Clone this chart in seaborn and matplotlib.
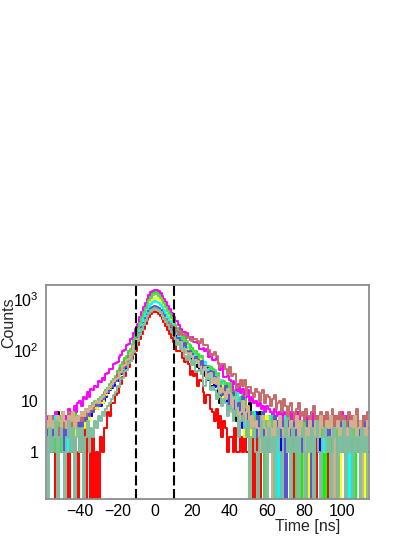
import numpy as np
import pandas as pd
import matplotlib
matplotlib.use("Agg")
import matplotlib.pyplot as plt
from matplotlib.ticker import MultipleLocator, LogLocator, FuncFormatter, NullFormatter, NullLocator
import seaborn as sns

# timing histograms, 1 ns bins, first bin centred at -58 ns
time_start = -58
bin_width = 1
cut_window = [-10, 10]

h_black = [3, 2, 4, 3, 1, 2, 6, 3, 2, 4, 3, 2, 5, 3, 4, 2, 4, 5,
           4, 6, 5, 4, 7, 6, 5, 8, 7, 9, 8, 10, 9, 12, 13, 14, 17, 18, 21, 24,
           30, 27, 38, 35, 44, 56, 58, 73, 80, 102,
           120, 152, 190, 243, 298, 366, 432, 498, 561, 604, 621, 606, 574, 526, 468, 412, 358, 309, 266, 229, 198,
           194, 162, 132, 145, 114, 91, 90, 94, 82, 57, 70, 65, 46, 45, 43, 31, 44, 29, 31, 20,
           20, 27, 23, 12, 9, 15, 16, 10, 7, 15, 8, 9, 11, 4, 5, 8, 6, 8, 2, 6,
           9, 4, 3, 5, 2, 6, 3, 4, 1, 3, 5, 2, 4, 3, 0, 4, 2, 3, 5, 3, 1, 4, 2, 3, 3, 6, 2, 1, 4, 3, 2, 5,
           3, 0, 3, 4, 2, 3, 1, 5, 3, 2, 4, 3, 2, 0, 3, 5, 2, 3, 4, 1, 3, 2, 5, 3, 4, 2, 3, 1, 4, 3, 2, 4]

h_red = [2, 1, 3, 1, 2, 0, 1, 3, 2, 1, 2, 1, 0, 3, 1, 2, 1, 0,
         2, 1, 3, 0, 2, 1, 0, 2, 0, 1, 0, 2, 1, 3, 3, 6, 5, 9, 9, 13,
         14, 19, 21, 29, 31, 42, 46, 60, 66, 83,
         96, 125, 162, 208, 262, 322, 386, 448, 505, 545, 560, 545, 510, 460, 405, 348, 295, 246, 204, 168, 140,
         129, 96, 95, 97, 68, 57, 65, 53, 32, 39, 31, 35, 20, 26, 25, 15, 9, 13, 13, 7,
         6, 4, 7, 3, 5, 2, 4, 3, 1, 2, 2, 1, 3, 1, 1, 2, 1, 2, 1, 1,
         1, 2, 0, 1, 3, 0, 2, 1, 0, 2, 1, 3, 0, 1, 2, 0, 1, 2, 1, 0, 3, 1, 2, 0, 1, 2, 1, 0, 2, 3, 1, 0,
         2, 1, 1, 0, 2, 1, 3, 0, 1, 2, 0, 1, 2, 1, 0, 2, 1, 3, 1, 0, 2, 1, 2, 0, 1, 3, 1, 2, 0, 1, 2, 1]

h_green = [3, 4, 2, 3, 5, 2, 4, 3, 1, 4, 3, 5, 2, 4, 3, 6, 4, 3,
           5, 4, 6, 7, 5, 8, 7, 9, 8, 10, 11, 10, 13, 14, 16, 18, 20, 23, 27, 30,
           39, 36, 51, 52, 68, 71, 93, 99, 131, 155,
           215, 290, 378, 480, 602, 740, 888, 1040, 1192, 1318, 1380, 1352, 1276, 1165, 1032, 900, 768, 645, 540, 452, 378,
           295, 269, 253, 213, 173, 184, 131, 124, 123, 107, 80, 95, 83, 64, 75, 57, 58, 37, 45, 46,
           43, 35, 25, 35, 23, 16, 18, 22, 18, 9, 16, 16, 8, 9, 10, 5, 13, 6, 7, 4,
           6, 4, 5, 3, 5, 4, 2, 6, 3, 4, 5, 2, 3, 4, 1, 4, 3, 5, 2, 4, 3, 1, 4, 3, 5, 2, 3, 0, 4, 3, 2, 4,
           3, 5, 1, 3, 4, 2, 3, 4, 0, 3, 5, 2, 4, 3, 2, 3, 4, 1, 3, 5, 2, 3, 4, 2, 0, 3, 4, 2, 3, 5, 2, 4]

h_blue = [2, 4, 3, 1, 3, 2, 4, 2, 3, 5, 1, 3, 2, 4, 3, 2, 5, 3,
          4, 3, 5, 6, 4, 7, 5, 6, 8, 7, 9, 8, 11, 10, 12, 15, 16, 19, 20, 24,
          25, 33, 34, 45, 44, 59, 60, 79, 84, 108,
          128, 160, 203, 258, 322, 395, 470, 545, 612, 660, 680, 665, 628, 574, 512, 448, 388, 333, 285, 245, 212,
          179, 186, 160, 121, 107, 113, 111, 88, 76, 90, 67, 66, 66, 43, 43, 48, 39, 44, 26, 31,
          29, 19, 22, 28, 16, 14, 20, 16, 6, 13, 9, 12, 6, 10, 11, 5, 3, 7, 7, 4,
          5, 3, 4, 6, 2, 4, 3, 5, 3, 1, 4, 3, 2, 5, 3, 4, 0, 3, 2, 4, 3, 5, 2, 3, 1, 4, 3, 2, 4, 0, 3, 5,
          2, 3, 4, 2, 3, 1, 3, 4, 2, 5, 3, 2, 3, 0, 4, 3, 2, 3, 5, 2, 3, 4, 1, 3, 2, 4, 3, 2, 0, 3, 4, 2]

h_yellow = [2, 3, 1, 4, 2, 3, 0, 3, 2, 4, 1, 3, 2, 3, 4, 2, 3, 5,
            4, 5, 3, 6, 5, 4, 7, 6, 8, 7, 9, 10, 9, 12, 13, 15, 17, 19, 22, 25,
            32, 30, 41, 42, 55, 57, 74, 79, 103, 118,
            168, 222, 290, 370, 462, 565, 675, 790, 905, 1000, 1050, 1030, 972, 888, 790, 690, 590, 498, 418, 350, 295,
            242, 227, 190, 145, 137, 144, 124, 93, 104, 81, 78, 55, 68, 67, 46, 44, 54, 40, 28, 34,
            22, 25, 29, 23, 16, 24, 12, 13, 15, 13, 6, 13, 10, 6, 10, 6, 8, 2, 5, 7,
            0, 4, 2, 5, 3, 1, 4, 3, 2, 5, 3, 4, 2, 0, 3, 4, 2, 3, 5, 1, 3, 2, 4, 3, 2, 5, 3, 1, 4, 2, 3, 4,
            0, 3, 2, 5, 3, 4, 2, 3, 1, 4, 3, 2, 4, 3, 5, 2, 0, 3, 4, 2, 3, 1, 4, 3, 2, 5, 3, 2, 4, 0, 3, 2]

h_magenta = [4, 5, 3, 5, 4, 6, 4, 5, 3, 6, 5, 4, 7, 5, 6, 8, 6, 9,
             10, 8, 12, 11, 15, 12, 17, 16, 20, 19, 24, 23, 28, 26, 33, 36, 42, 43, 52, 55,
             58, 74, 79, 96, 101, 123, 132, 160, 174, 210,
             252, 327, 433, 548, 694, 838, 1004, 1166, 1334, 1457, 1522, 1487, 1413, 1286, 1153, 1006, 873, 737, 622, 518, 442,
             366, 364, 314, 254, 221, 226, 216, 182, 158, 177, 140, 141, 139, 103, 102, 111, 95, 104, 73, 82,
             62, 64, 68, 56, 40, 50, 29, 29, 31, 26, 16, 25, 21, 15, 21, 14, 17, 7, 12, 16,
             10, 12, 9, 10, 8, 9, 7, 8, 6, 8, 7, 6, 5, 7, 6, 5, 6, 4, 6, 5, 5, 4, 6, 3, 5, 4, 6, 4, 3, 5, 4, 5,
             3, 4, 6, 3, 4, 2, 5, 4, 3, 5, 4, 2, 4, 5, 3, 4, 3, 6, 4, 3, 5, 2, 4, 3, 5, 4, 2, 4, 3, 5, 4, 3]

h_cyan = [3, 2, 4, 3, 2, 5, 3, 4, 2, 3, 4, 1, 3, 5, 2, 4, 3, 4,
          5, 4, 6, 5, 7, 6, 8, 7, 9, 8, 10, 11, 12, 13, 15, 16, 18, 21, 24, 27,
          34, 32, 44, 43, 57, 60, 77, 82, 107, 121,
          165, 212, 272, 344, 426, 518, 614, 712, 804, 866, 900, 884, 836, 766, 684, 600, 516, 440, 372, 315, 268,
          250, 206, 167, 177, 139, 112, 110, 113, 99, 72, 85, 81, 59, 58, 56, 41, 58, 39, 42, 29,
          29, 34, 29, 17, 19, 26, 21, 13, 19, 13, 14, 6, 13, 14, 7, 7, 12, 7, 3, 7,
          5, 3, 6, 4, 2, 5, 3, 4, 1, 4, 3, 5, 2, 4, 3, 0, 4, 3, 2, 5, 3, 2, 4, 3, 5, 1, 3, 4, 2, 3, 4, 2,
          5, 3, 0, 4, 2, 3, 4, 1, 3, 4, 2, 5, 3, 2, 4, 3, 1, 4, 3, 2, 4, 0, 3, 5, 2, 4, 3, 2, 3, 4, 1, 3]

h_lime = [2, 3, 4, 2, 3, 1, 4, 3, 5, 2, 3, 4, 2, 3, 5, 3, 4, 4,
          5, 6, 4, 7, 6, 8, 7, 9, 10, 9, 11, 12, 13, 15, 16, 18, 21, 24, 27, 31,
          32, 44, 43, 57, 58, 75, 80, 103, 114, 152,
          200, 262, 342, 436, 545, 665, 795, 930, 1060, 1180, 1250, 1228, 1160, 1060, 940, 820, 700, 590, 495, 415, 348,
          302, 235, 221, 215, 163, 141, 150, 128, 91, 100, 86, 91, 65, 74, 72, 51, 41, 48, 48, 35,
          31, 40, 33, 20, 17, 23, 25, 17, 12, 22, 13, 14, 15, 6, 7, 12, 8, 11, 4, 7,
          4, 6, 3, 5, 2, 4, 5, 3, 0, 4, 3, 2, 5, 3, 4, 2, 3, 4, 1, 3, 5, 3, 2, 4, 3, 0, 3, 4, 2, 5, 3, 1,
          4, 3, 2, 4, 3, 5, 2, 3, 4, 2, 3, 0, 4, 3, 2, 5, 3, 4, 2, 3, 1, 4, 3, 2, 5, 3, 4, 0, 3, 2, 4, 3]

h_slate = [2, 3, 1, 3, 2, 4, 2, 3, 2, 1, 3, 2, 4, 3, 2, 3, 4, 3,
           4, 3, 5, 4, 6, 5, 7, 6, 8, 9, 8, 10, 11, 12, 14, 15, 18, 19, 22, 25,
           27, 36, 35, 46, 47, 62, 64, 83, 90, 116,
           138, 172, 218, 276, 344, 420, 500, 580, 650, 700, 720, 705, 665, 608, 543, 475, 410, 352, 301, 258, 222,
           178, 171, 170, 146, 119, 134, 94, 92, 94, 82, 60, 74, 64, 50, 60, 45, 48, 29, 37, 39,
           37, 30, 21, 30, 20, 13, 15, 20, 15, 7, 14, 15, 7, 8, 9, 5, 12, 5, 7, 3,
           6, 3, 4, 2, 5, 3, 4, 6, 2, 3, 4, 1, 3, 5, 2, 4, 3, 2, 4, 0, 3, 4, 2, 3, 5, 2, 3, 4, 1, 3, 2, 4,
           3, 0, 4, 3, 5, 2, 3, 4, 2, 3, 1, 4, 3, 2, 4, 3, 5, 2, 3, 0, 4, 2, 3, 5, 3, 2, 4, 1, 3, 4, 2, 3]

h_rose = [3, 4, 2, 5, 3, 4, 3, 2, 4, 5, 3, 4, 6, 3, 5, 4, 3, 5,
          5, 4, 6, 5, 7, 6, 8, 7, 9, 10, 9, 11, 12, 14, 15, 17, 19, 22, 24, 28,
          34, 33, 44, 45, 57, 59, 76, 81, 103, 112,
          132, 160, 200, 250, 308, 370, 435, 500, 556, 596, 610, 602, 575, 535, 488, 440, 395, 355, 320, 292, 270,
          268, 238, 198, 220, 196, 208, 172, 181, 182, 146, 163, 163, 147, 135, 163, 124, 126, 123, 100, 81,
          80, 90, 77, 54, 46, 54, 54, 42, 33, 46, 31, 33, 33, 18, 20, 26, 20, 26, 13, 19,
          19, 14, 12, 17, 15, 10, 14, 16, 9, 13, 12, 8, 11, 13, 7, 9, 10, 6, 11, 8, 5, 8, 9, 6, 4, 7, 9, 5,
          6, 4, 7, 5, 3, 6, 8, 4, 5, 2, 6, 5, 3, 6, 4, 4, 7, 2, 5, 3, 6, 4, 5, 2, 4, 6, 3, 5, 4, 7, 3, 4, 2, 5, 4, 6]

h_tan = [4, 3, 5, 3, 4, 2, 5, 4, 3, 6, 4, 3, 5, 4, 6, 3, 5, 4,
         5, 6, 5, 7, 6, 8, 7, 8, 9, 10, 9, 11, 12, 13, 15, 17, 19, 21, 24, 27,
         28, 37, 37, 48, 50, 63, 67, 85, 93, 117,
         130, 162, 205, 258, 320, 388, 458, 525, 582, 612, 620, 606, 572, 524, 468, 410, 354, 302, 258, 222, 192,
         155, 157, 129, 141, 97, 102, 88, 75, 86, 76, 51, 62, 61, 46, 36, 40, 47, 30, 34, 35,
         22, 28, 21, 29, 14, 18, 15, 11, 17, 14, 6, 11, 12, 7, 4, 6, 10, 4, 6, 8,
         3, 5, 2, 4, 3, 1, 4, 5, 3, 2, 4, 3, 0, 4, 2, 3, 5, 3, 2, 4, 1, 3, 4, 2, 3, 5, 2, 4, 3, 0, 3, 2,
         4, 3, 1, 4, 3, 2, 5, 3, 2, 4, 3, 5, 2, 0, 3, 4, 2, 3, 4, 1, 3, 2, 4, 3, 5, 2, 3, 4, 0, 3, 2, 4]

h_sage = [2, 0, 3, 1, 2, 4, 0, 2, 3, 1, 0, 2, 4, 1, 3, 0, 2, 3,
          1, 3, 0, 2, 4, 1, 3, 2, 4, 3, 5, 4, 6, 5, 7, 8, 9, 11, 13, 15,
          20, 19, 27, 28, 39, 41, 55, 60, 80, 92,
          118, 150, 192, 245, 308, 380, 455, 530, 595, 635, 650, 636, 600, 548, 488, 425, 365, 310, 262, 222, 188,
          165, 124, 136, 104, 102, 77, 63, 76, 63, 50, 60, 37, 38, 41, 33, 20, 20, 27, 27, 16,
          19, 16, 11, 14, 12, 8, 11, 9, 5, 8, 7, 4, 6, 5, 2, 4, 5, 3, 2, 4,
          0, 2, 3, 1, 0, 2, 4, 1, 2, 0, 3, 1, 2, 0, 2, 3, 1, 0, 2, 4, 1, 2, 0, 3, 1, 2, 0, 2, 3, 1, 0, 2,
          1, 3, 0, 2, 4, 1, 0, 2, 3, 1, 2, 0, 1, 3, 2, 0, 2, 1, 4, 0, 2, 1, 3, 0, 2, 1, 2, 0, 3, 1, 2, 0]

hists = [h_black, h_red, h_green, h_blue, h_yellow, h_magenta,
         h_cyan, h_lime, h_slate, h_rose, h_tan, h_sage]
colors = ["#000000", "#ff0000", "#00ff00", "#0000ff", "#ffff00", "#ff00ff",
          "#00ffff", "#59d454", "#5954d9", "#c86868", "#d2b48c", "#7fbf9f"]

sns.set_theme(style="white")
plt.rcParams["font.family"] = ["Liberation Sans", "DejaVu Sans"]
plt.rcParams["mathtext.default"] = "regular"

fig = plt.figure(figsize=(4.15, 5.37), dpi=100)
ax = fig.add_axes([0.110, 0.071, 0.779, 0.3985])
ax.set_yscale("log")

n_bins = len(h_black)
lo = time_start - bin_width / 2
hi = time_start + (n_bins - 0.5) * bin_width
for counts, col in zip(hists, colors):
    df = pd.DataFrame({"time": time_start + bin_width * np.arange(len(counts)),
                       "counts": counts})
    sns.histplot(data=df, x="time", weights="counts", binwidth=bin_width,
                 binrange=(lo, hi), element="step", fill=False,
                 color=col, linewidth=1.4, ax=ax)

# timing window
for w in cut_window:
    ax.axvline(w, color="black", lw=1.5, ls=(0, (4.8, 1.7)))

ax.set_xlim(lo, hi)
ax.set_ylim(0.12, 1880)
ax.set_xlabel("")
ax.set_ylabel("")

# ROOT-like axes
ax.xaxis.set_major_locator(MultipleLocator(20))
ax.xaxis.set_minor_locator(NullLocator())
ax.yaxis.set_major_locator(LogLocator(base=10, numticks=10))
ax.yaxis.set_minor_locator(LogLocator(base=10, subs=np.arange(2, 10), numticks=30))
ax.yaxis.set_minor_formatter(NullFormatter())
ylabels = {1: "1", 10: "10", 100: r"$10^{2}$", 1000: r"$10^{3}$"}
ax.yaxis.set_major_formatter(FuncFormatter(lambda v, p: ylabels.get(int(round(v)), "")))

ax.tick_params(axis="both", which="both", direction="in", colors="#8c8c8c",
               labelcolor="black", labelsize=11.5, top=False, right=False)
ax.tick_params(axis="y", which="major", length=6, width=0.8, pad=5)
ax.tick_params(axis="y", which="minor", length=3.5, width=0.8)
ax.tick_params(axis="x", which="major", length=5, width=0.8, pad=3.5)
for s in ax.spines.values():
    s.set_color("#8c8c8c")
    s.set_linewidth(1.3)

fig.text(8.5 / 415, 1 - 297 / 537, "Counts", rotation=90, ha="center", va="top", fontsize=11.5)
fig.text(340 / 415, 1 - 526 / 537, "Time [ns]", ha="right", va="center", fontsize=11.5)

fig.savefig("out.png", dpi=100)
